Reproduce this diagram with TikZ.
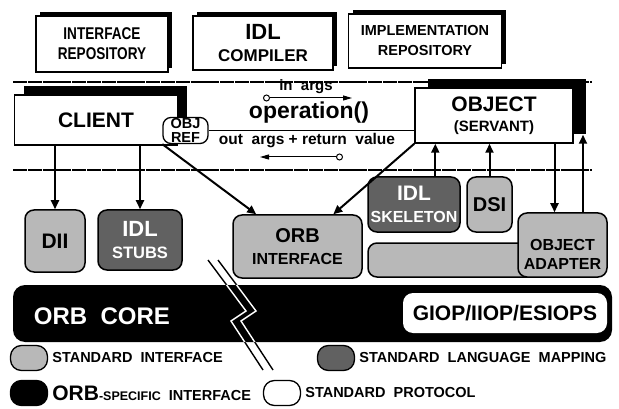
\documentclass[tikz,border=0pt]{standalone}
\usepackage{fontspec}
\setmainfont{Liberation Sans}
\newfontfamily\narrowfont[FakeStretch=0.8]{Liberation Sans}
\usetikzlibrary{shadows,arrows.meta,calc,positioning}

\newcommand{\fsz}[1]{\fontsize{#1}{#1}\selectfont\bfseries}
\newcommand{\twofont}[2]{\fontsize{#1}{#2}\selectfont\bfseries}

\tikzstyle{toolbox} = [draw=black, line width=1.5pt, fill=white, rectangle,
    align=center, inner sep=0pt,
    general shadow={fill=black, shadow xshift=4pt, shadow yshift=4pt}]
\tikzstyle{mainbox} = [draw=black, line width=1.5pt, fill=white, rectangle,
    align=center, inner sep=0pt,
    general shadow={fill=black, shadow xshift=9pt, shadow yshift=9pt}]
\tikzstyle{servbox} = [draw=black, line width=1.5pt, fill=white, rectangle,
    align=center, inner sep=0pt,
    general shadow={fill=black, shadow xshift=13pt, shadow yshift=9pt}]
\tikzstyle{refbox} = [draw=black, line width=1.3pt, fill=white, rounded corners=8pt,
    align=center, inner sep=0pt, minimum width=45pt, minimum height=26pt,
    font=\twofont{14.5}{13.5}]
\tikzstyle{stdiface} = [draw=black, line width=1.5pt, fill=black!28, rounded corners=9pt,
    align=center, inner sep=0pt]
\tikzstyle{langmap} = [stdiface, fill=black!62, text=white]
\tikzstyle{flow} = [line width=2pt, -{Triangle[length=9pt,width=8pt]}]
\tikzstyle{param} = [line width=1pt, {Circle[open,length=7pt,width=7pt,fill=white]}-{Triangle[length=9pt,width=5pt]}]
\tikzstyle{divider} = [line width=2.4pt, dash pattern=on 14pt off 0.8pt]
\tikzstyle{bolt} = [line width=1.4pt, line join=miter]
\tikzstyle{legendkey} = [draw=black, line width=1.3pt, rounded corners=11pt,
    minimum width=37pt, minimum height=25pt, inner sep=0pt]
\tikzstyle{legendtext} = [anchor=west, inner sep=0pt, font=\fsz{14.5}]

\begin{document}
\begin{tikzpicture}[x=1pt,y=-1pt]
\useasboundingbox (0,0) rectangle (619,409);

% repositories and compiler
\node[toolbox, minimum width=132pt, minimum height=56pt,
      font=\narrowfont\twofont{17}{20}] (ifrepo) at (102,44) {INTERFACE\\REPOSITORY};
\node[toolbox, minimum width=140pt, minimum height=54pt, font=\twofont{17}{22}] (idlcomp) at (263,43)
      {{\fsz{22}IDL}\\COMPILER};
\node[toolbox, minimum width=153pt, minimum height=54pt,
      font=\twofont{14.5}{20}] (implrepo) at (425,41) {IMPLEMENTATION\\REPOSITORY};

\draw[divider] (13,82) -- (592,82);
\draw[divider] (13,170) -- (592,170);

% client and servant
\node[mainbox, minimum width=163pt, minimum height=50pt, font=\fsz{21}] (client) at (96,120) {CLIENT};
\node[refbox] (objref) at (185.5,130.5) {OBJ\\REF};
\node[servbox, minimum width=158pt, minimum height=55pt, font=\twofont{15}{20}] (object) at (494,115.5)
      {{\fsz{21}OBJECT}\\(SERVANT)};

% request
\node[font=\fsz{23}] (op) at (309,113) {operation()};
\node[font=\fsz{15}] (inargs) at (306,87) {in\ \ args};
\coordinate (inA) at (263,98);
\coordinate (inB) at (352,98);
\draw[param] (inA) -- (inB);
\draw[line width=1pt] (objref.east) -- (objref.east -| object.west);
\node[font=\fsz{15.5}] (outargs) at (307,141) {out\ \ args + return\ \ value};
\coordinate (outA) at (343,157);
\coordinate (outB) at (260,157);
\draw[param] (outA) -- (outB);

% interfaces
\node[stdiface, minimum width=60pt, minimum height=62pt, font=\fsz{21}] (dii) at (55,241) {DII};
\node[langmap, minimum width=84pt, minimum height=60pt, font=\twofont{16.5}{22}] (stubs) at (140,240)
      {{\fsz{22}IDL}\\STUBS};
\node[stdiface, minimum width=129pt, minimum height=63pt, font=\twofont{16}{22}] (orbiface) at (297.5,246.5)
      {{\fsz{20}ORB}\\INTERFACE};
\node[langmap, minimum width=92pt, minimum height=55pt, font=\twofont{16}{22}] (skel) at (414,204.5)
      {{\fsz{21}IDL}\\SKELETON};
\node[stdiface, minimum width=45pt, minimum height=55pt, font=\fsz{20}] (dsi) at (489.5,204.5) {DSI};
\node[stdiface, minimum width=236pt, minimum height=34pt] (oabar) at (486,260) {};
\node[stdiface, minimum width=89pt, minimum height=64pt,
      label={[align=center, yshift=-9pt, font=\twofont{16}{19}]center:{OBJECT\\ADAPTER}}] (adapter) at (562.5,245) {};

% orb core
\node[fill=black, rounded corners=12pt, minimum width=599pt, minimum height=57pt] (orbcore) at (312.5,313.5) {};
\node[text=white, font=\fsz{24}] (coretext) at (102,316) {ORB\ \ CORE};
\node[fill=white, rounded corners=10pt, minimum width=204pt, minimum height=40pt,
      inner sep=0pt, font=\fsz{21}] (giop) at (505,313) {GIOP/IIOP/ESIOPS};

\foreach \dx in {0,10}
  \draw[bolt, xshift=\dx pt] (208,260) -- (246,311) -- (231,321) -- (263,370);
\begin{scope}
  \clip[rounded corners=12pt] (orbcore.north west) rectangle (orbcore.south east);
  \foreach \dx in {0,10}
    \draw[bolt, white, xshift=\dx pt] (208,260) -- (246,311) -- (231,321) -- (263,370);
\end{scope}

% calls
\draw[flow] (dii.north |- client.south) -- (dii.north);
\draw[flow] (stubs.north |- client.south) -- (stubs.north);
\draw[flow] (objref.south west) -- (orbiface.142);
\draw[flow] (object.south west) -- (orbiface.42);
\draw[flow] (skel.53) -- (skel.53 |- object.south);
\draw[flow] (dsi.north) -- (dsi.north |- object.south);
\coordinate (oadown) at ($(adapter.north)+(-8,0)$);
\coordinate (oaup) at ($(adapter.north)+(20.5,0)$);
\coordinate (objshade) at ($(object.south)+(0,-9)$);
\draw[flow] (oadown |- object.south) -- (oadown);
\draw[flow] (oaup) -- (oaup |- objshade);

% legend
\node[legendkey, fill=black!28] (keystd) at (29,358) {};
\node[legendtext, right=4pt of keystd] (txtstd) {STANDARD\ \ INTERFACE};
\node[legendkey, fill=black!62] (keymap) at (336,358) {};
\node[legendtext, right=4pt of keymap] (txtmap) {STANDARD\ \ LANGUAGE\ \ MAPPING};
\node[legendkey, fill=black] (keyorb) at (29,393) {};
\node[legendtext, right=4pt of keyorb] (txtorb) {{\fsz{21}ORB}{\fsz{12.5}-SPECIFIC}\ \ INTERFACE};
\node[legendkey, fill=white] (keyprot) at (282,393) {};
\node[legendtext, right=4pt of keyprot] (txtprot) {STANDARD\ \ PROTOCOL};
\end{tikzpicture}
\end{document}
